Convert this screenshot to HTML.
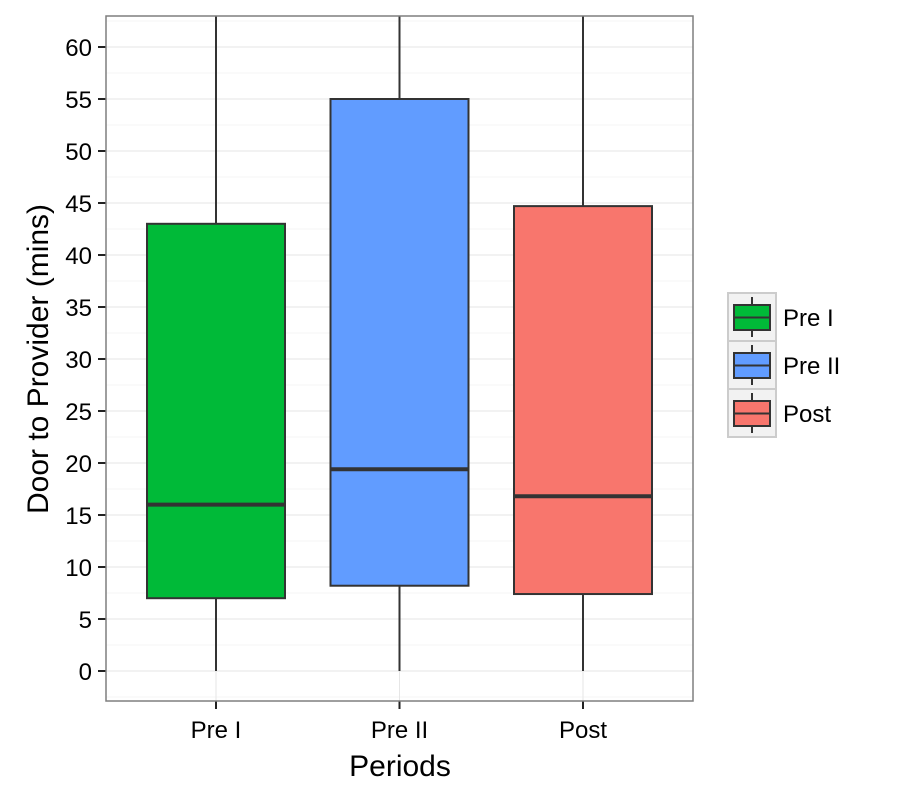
<!DOCTYPE html>
<html><head><meta charset="utf-8"><style>
body{margin:0;background:#fff;}
svg{display:block;font-family:"Liberation Sans",Arial,sans-serif;}
</style></head><body>
<svg id="chart" width="900" height="800"></svg>
<script>
const categories=["Pre I","Pre II","Post"];
const colors=["#00BA38","#619CFF","#F8766D"];
const q1=[7,8.2,7.4];
const medians=[16,19.4,16.8];
const q3=[43,55,44.7];
const whiskLow=[0,0,0];
const whiskHigh=[70,70,70];
const yTicks=[0,5,10,15,20,25,30,35,40,45,50,55,60];

const NS="http://www.w3.org/2000/svg";
const svg=document.getElementById('chart');
const L=106,R=693,T=16,B=701;
const y=v=>671-v*10.4;
const x=i=>216+i*183.5;
const bw=138;
function mk(tag,attrs,parent){const e=document.createElementNS(NS,tag);for(const k in attrs)e.setAttribute(k,attrs[k]);(parent||svg).appendChild(e);return e;}
const defs=mk('defs',{});const cp=mk('clipPath',{id:'cp'},defs);mk('rect',{x:L,y:T,width:R-L,height:B-T},cp);
const panel=mk('rect',{x:L,y:T,width:R-L,height:B-T,fill:'#fff'});


const g=mk('g',{'clip-path':'url(#cp)'});
for(let v=-2.5;v<=65;v+=5){const l=mk('line',{x1:L,x2:R,y1:y(v),y2:y(v),stroke:'#f4f4f4','stroke-width':1},g);

}
yTicks.forEach(v=>{const l=mk('line',{x1:L,x2:R,y1:y(v),y2:y(v),stroke:'#e6e6e6','stroke-width':1},g);


const t=mk('line',{x1:98,x2:106,y1:y(v),y2:y(v),stroke:'#222','stroke-width':2});


const tx=mk('text',{x:92,y:y(v)+9,'text-anchor':'end','font-size':24,fill:'#000'});tx.textContent=v;

});
categories.forEach((c,i)=>{const l=mk('line',{x1:x(i),x2:x(i),y1:T,y2:B,stroke:'#e6e6e6'},g);

});
categories.forEach((c,i)=>{
const grp=mk('g',{},g);


mk('line',{x1:x(i),x2:x(i),y1:y(whiskHigh[i]),y2:y(q3[i]),stroke:'#333','stroke-width':2},grp);
mk('line',{x1:x(i),x2:x(i),y1:y(q1[i]),y2:y(whiskLow[i]),stroke:'#333','stroke-width':2},grp);
mk('rect',{x:x(i)-bw/2,y:y(q3[i]),width:bw,height:y(q1[i])-y(q3[i]),fill:colors[i],stroke:'#333','stroke-width':2},grp);
mk('line',{x1:x(i)-bw/2,x2:x(i)+bw/2,y1:y(medians[i]),y2:y(medians[i]),stroke:'#333','stroke-width':4},grp);
const t=mk('line',{x1:x(i),x2:x(i),y1:B,y2:B+8,stroke:'#222','stroke-width':2});


const tx=mk('text',{x:x(i),y:738,'text-anchor':'middle','font-size':24,fill:'#000'});tx.textContent=c;


const ly=293+i*48;
const lg=mk('g',{});


mk('rect',{x:728,y:ly,width:48,height:48,fill:'#f2f2f2',stroke:'#ccc','stroke-width':2},lg);
mk('line',{x1:752,x2:752,y1:ly+4,y2:ly+44,stroke:'#333','stroke-width':2},lg);
mk('rect',{x:734,y:ly+12,width:36,height:25,fill:colors[i],stroke:'#333','stroke-width':2},lg);
mk('line',{x1:734,x2:770,y1:ly+24.5,y2:ly+24.5,stroke:'#333','stroke-width':2},lg);
const lt=mk('text',{x:783,y:ly+33,'font-size':24,fill:'#000'},lg);lt.textContent=c;
});
const border=mk('rect',{x:L,y:T,width:R-L,height:B-T,fill:'none',stroke:'#7f7f7f','stroke-width':1.5});


const xt=mk('text',{x:400,y:776,'text-anchor':'middle','font-size':30,fill:'#000'});xt.textContent='Periods';


const yt=mk('text',{x:0,y:0,transform:'translate(48,359) rotate(-90)','text-anchor':'middle','font-size':30,fill:'#000'});yt.textContent='Door to Provider (mins)';


</script>
</body></html>
